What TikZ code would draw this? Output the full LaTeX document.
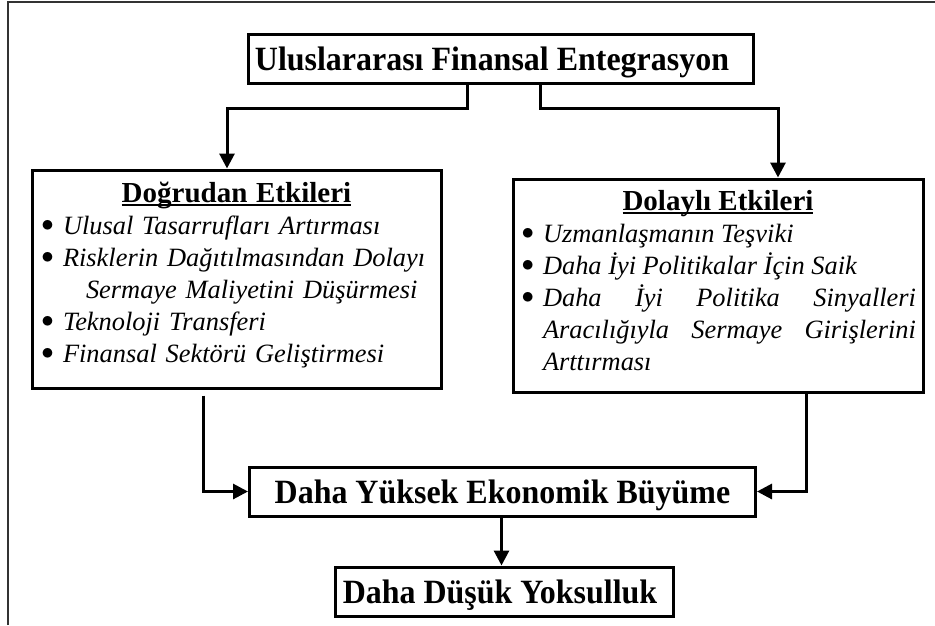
\documentclass[tikz,border=0pt]{standalone}
\usepackage{fontspec}
\setmainfont{Liberation Serif}
\newfontfamily\titlefam[FakeStretch=0.94]{Liberation Serif}
\usetikzlibrary{arrows.meta, positioning}
\newcommand{\effhead}[1]{{\centering\fontsize{29}{32}\selectfont\bfseries\setbox0\hbox{#1}\rlap{\rule[-4pt]{\wd0}{1.6pt}}\box0\par}}
\newcommand{\effitem}[1]{\par\hangindent=23pt\hangafter=1\noindent\makebox[23pt][l]{\hspace{1.5pt}\raisebox{2.5pt}{\fontsize{24}{24}\selectfont$\bullet$}}\textit{#1}}

\begin{document}
\begin{tikzpicture}[x=1pt, y=-1pt,
  mainbox/.style={draw, line width=3pt, minimum height=49pt, inner sep=0pt, text height=23pt, text depth=0pt, font={\titlefam\fontsize{34}{40}\selectfont\bfseries}},
  effbox/.style={draw, line width=3pt, inner ysep=0pt, text height=20pt, font={\fontsize{26.4}{32}\selectfont}},
  conn/.style={line width=3pt, -{Triangle[length=15pt,width=15pt]}}]
\useasboundingbox (0,0) rectangle (935,625);
\draw[line width=2.5pt, black!80] (8,625) -- (8,2) -- (935,2);

\node[mainbox, minimum width=505pt] (finint) at (501,58.5) {Uluslararası Finansal Entegrasyon\hspace*{18pt}};
\node[effbox, align=left, text width=393pt, inner xsep=8pt, minimum height=218pt, text depth=174pt] (direct) at (236.5,279) {%
  \effhead{Doğrudan Etkileri}\tolerance=10000
  \effitem{Ulusal Tasarrufları Artırması}
  \effitem{Risklerin Dağıtılmasından Dolayı\newline\hspace*{23pt}Sermaye Maliyetini Düşürmesi}
  \effitem{Teknoloji Transferi}
  \effitem{Finansal Sektörü Geliştirmesi}\par};
\node[effbox, align=justify, text width=396pt, inner xsep=7pt, minimum height=213pt, text depth=171pt] (indirect) at (718,285.5) {%
  \effhead{Dolaylı Etkileri}\tolerance=10000\hbadness=10000
  \effitem{Uzmanlaşmanın Teşviki}
  \effitem{Daha İyi Politikalar İçin Saik}
  \effitem{Daha İyi Politika Sinyalleri\linebreak Aracılığıyla Sermaye Girişlerini\linebreak Arttırması}\par};
\node[mainbox, minimum width=506pt] (growth) at (502.5,491.5) {Daha Yüksek Ekonomik Büyüme};
\node[mainbox, minimum width=338pt] (poverty) at (504,591.5) {Daha Düşük Yoksulluk\hspace*{8pt}};

\draw[conn] ([xshift=-34pt]finint.south) -- ++(0,24) -| ([xshift=-9.5pt]direct.north);
\draw[conn] ([xshift=39pt]finint.south) -- ++(0,24) -| ([xshift=60pt]indirect.north);
\draw[conn] ([xshift=-33.5pt,yshift=-6pt]direct.south) |- (growth.west);
\draw[conn] ([xshift=88pt]indirect.south) |- (growth.east);
\draw[conn] ([xshift=-1pt]growth.south) -- ([xshift=-1pt]growth.south |- poverty.north);
\end{tikzpicture}
\end{document}
